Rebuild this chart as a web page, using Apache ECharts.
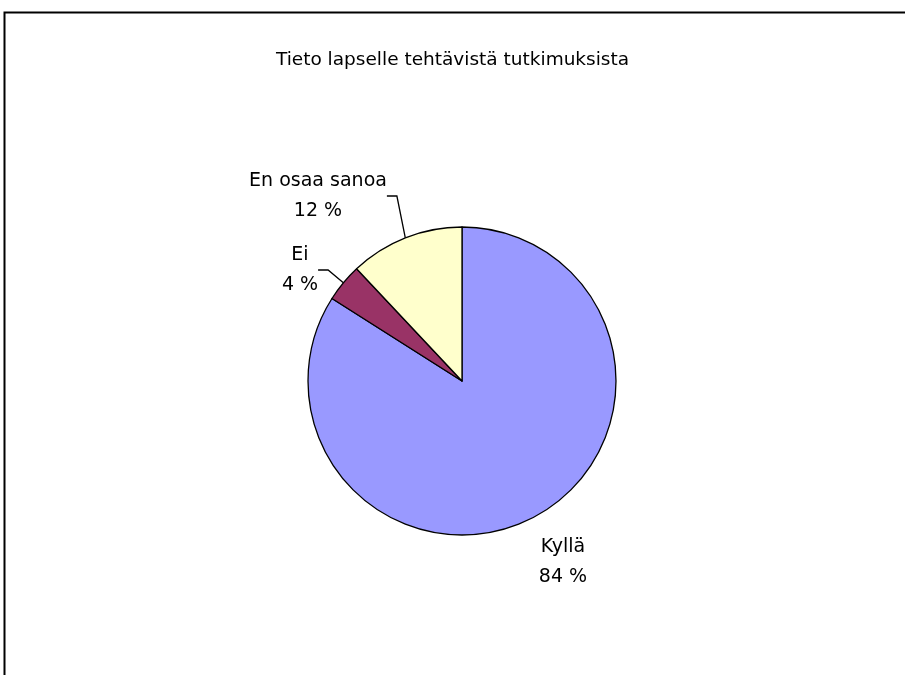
<!DOCTYPE html>
<html>
<head>
<meta charset="utf-8">
<script src="https://cdn.jsdelivr.net/npm/echarts@6/dist/echarts.min.js"></script>
<style>html,body{margin:0;padding:0;background:#fff;}#c{width:905px;height:675px;}</style>
</head>
<body>
<div id="c"></div>
<script>
var titleText = 'Tieto lapselle tehtävistä tutkimuksista';
var categories = ['Kyllä', 'Ei', 'En osaa sanoa'];
var values = [84, 4, 12];
var colors = ['#9999FF', '#993366', '#FFFFCC'];
var showLeader = [false, true, true];
var labelPos = [[563, 562], [300, 270], [318, 196]];

var chart = echarts.init(document.getElementById('c'), null, {renderer: 'canvas'});
var data = categories.map(function (c, i) {
  return {
    name: c,
    value: values[i],
    itemStyle: {color: colors[i]},
    labelLine: {show: showLeader[i]}
  };
});
chart.setOption({
  animation: false,
  backgroundColor: '#fff',
  title: {
    text: titleText,
    left: 'center',
    top: 46,
    textStyle: {fontFamily: 'DejaVu Sans', fontSize: 18.5, fontWeight: 'normal', color: '#000'}
  },
  graphic: [{
    type: 'rect',
    shape: {x: 4.5, y: 12.5, width: 950, height: 720},
    style: {fill: 'none', stroke: '#000', lineWidth: 2},
    silent: true
  }],
  series: [{
    type: 'pie',
    center: [462, 381],
    radius: 154,
    startAngle: 90,
    clockwise: true,
    data: data,
    itemStyle: {borderColor: '#000', borderWidth: 1.3},
    label: {
      show: true,
      position: 'outside',
      formatter: '{b}\n{c} %',
      fontFamily: 'DejaVu Sans',
      fontSize: 19,
      lineHeight: 30,
      color: '#000',
      align: 'center'
    },
    labelLine: {show: true, lineStyle: {color: '#000', width: 1.3}, length: 10, length2: 10},
    labelLayout: function (p) {
      var pos = labelPos[p.dataIndex];
      return {x: pos[0], y: pos[1], align: 'center', verticalAlign: 'middle'};
    },
    emphasis: {disabled: true}
  }]
});
</script>
</body>
</html>
